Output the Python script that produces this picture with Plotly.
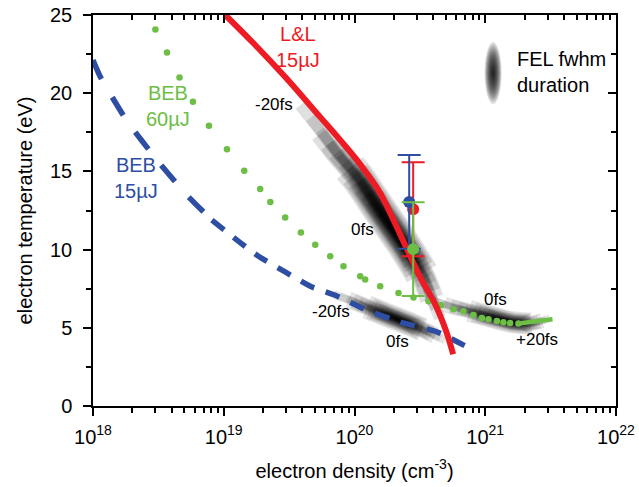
import plotly.graph_objects as go

FONT = "Liberation Sans, Arial, Helvetica, sans-serif"
RED = "rgb(237,28,36)"
BLUE = "rgb(45,78,163)"
GREEN = "rgb(108,190,69)"

# ---------------- data ----------------
# L&L 15uJ (solid red)
ll_density = [1.027e19, 1.681e19, 2.953e19, 5.47e19, 7.78e19, 1.106e20, 1.572e20,
              1.942e20, 2.44e20, 3.236e20, 4.068e20, 5.024e20, 5.68e20]
ll_temp = [25.0, 23.21, 21.03, 18.47, 17.00, 15.45, 13.61, 12.07, 10.28, 8.11, 6.64, 4.78, 3.31]

# BEB 15uJ (dashed blue) - upper and lower part
beb15_up_density = [1.0e18, 1.137e18, 1.80e18, 3.09e18, 5.08e18, 8.12e18]
beb15_up_temp = [22.12, 21.05, 18.28, 15.72, 13.59, 11.88]
beb15_lo_density = [8.12e18, 1.794e19, 2.95e19, 4.73e19, 7.12e19, 1.25e20, 2.235e20,
                    4.27e20, 8.12e20]
beb15_lo_temp = [11.88, 9.64, 8.57, 7.61, 7.08, 6.12, 5.37, 4.74, 3.56]

# BEB 60uJ (green dotted points + dense tail)
beb60_density = [3.0e18, 3.68e18, 4.59e18, 5.81e18, 7.71e18, 1.058e19, 1.435e19,
                 1.90e19, 2.27e19, 2.95e19, 3.89e19, 5.01e19, 6.52e19, 8.24e19,
                 1.106e20, 1.207e20, 1.572e20, 2.17e20, 2.825e20, 3.68e20, 4.59e20,
                 5.71e20, 6.81e20, 8.12e20, 9.42e20, 1.058e21, 1.227e21, 1.377e21,
                 1.55e21, 1.794e21]
beb60_temp = [24.08, 22.61, 21.01, 19.45, 17.92, 16.41, 15.04, 13.87, 13.05, 12.06,
              11.10, 10.31, 9.58, 8.94, 8.30, 8.09, 7.66, 7.23, 6.94, 6.70, 6.44,
              6.19, 6.06, 5.82, 5.63, 5.55, 5.44, 5.36, 5.31, 5.27]
beb60_tail_density = [1.794e21, 2.41e21, 3.27e21]
beb60_tail_temp = [5.27, 5.39, 5.55]

# measured points (red, blue, green) with error bars
meas_density = [2.81e20, 2.62e20, 2.81e20]
meas_temp = [12.58, 13.05, 10.03]
meas_err = [3.0, 3.0, 3.0]
meas_colors = [RED, BLUE, GREEN]

# FEL fwhm duration bands (centre lines)
band_ll_density = [3.85e19, 5.28e19, 7.38e19, 1.068e20, 1.60e20, 2.399e20, 3.41e20, 3.996e20, 4.52e20]
band_ll_temp = [19.24, 17.77, 16.17, 14.57, 12.39, 10.28, 8.17, 6.64, 5.61]
band_b15_density = [6.88e19, 9.27e19, 1.318e20, 1.875e20, 2.67e20, 3.66e20, 4.94e20]
band_b15_temp = [7.15, 6.76, 6.25, 5.74, 5.23, 4.72, 4.20]
band_b60_density = [3.47e20, 5.11e20, 7.66e20, 1.129e21, 1.606e21, 2.28e21, 3.13e21]
band_b60_temp = [6.96, 6.44, 6.06, 5.68, 5.36, 5.29, 5.61]

x_tick_vals = [1e18, 1e19, 1e20, 1e21, 1e22]
x_tick_text = ["10<sup>18</sup>", "10<sup>19</sup>", "10<sup>20</sup>", "10<sup>21</sup>", "10<sup>22</sup>"]
y_tick_vals = [0, 5, 10, 15, 20, 25]
x_minor_vals = [float(m) * 10.0 ** d for d in range(18, 22) for m in range(2, 10)]

fig = go.Figure()


def add_band(xs, ys, total_len, center, half_left, half_right, wmax, nlev=10, alpha=0.1):
    """Soft smudge along a centre line: nested, semi-transparent stroke pieces
    (each piece cut out of the full path by a dash pattern), lens shaped."""
    pieces = [(1.0, 0.35), (0.78, 0.7), (0.5, 1.0)]
    for k in range(nlev):
        f = 1 - k / nlev
        for lf, wf in pieces:
            a = max(0.0, center - half_left * f * lf)
            b = min(total_len, center + half_right * f * lf)
            w = wmax * f * wf
            dash = f"0px,{a:.0f}px,{max(b - a, 1):.0f}px,4000px"
            fig.add_trace(go.Scatter(
                x=xs, y=ys, mode="lines",
                line=dict(color=f"rgba(0,0,0,{alpha:.3f})", width=w, dash=dash,
                          shape="spline", smoothing=0.5),
                hoverinfo="skip", showlegend=False))


add_band(band_ll_density, band_ll_temp, 256, 160, 160, 96, 34, alpha=0.12)
add_band(band_b15_density, band_b15_temp, 121, 72, 72, 49, 24, alpha=0.1)
add_band(band_b60_density, band_b60_temp, 129, 92, 92, 37, 22, alpha=0.1)

fig.add_trace(go.Scatter(x=beb15_up_density, y=beb15_up_temp, mode="lines",
                         line=dict(color=BLUE, width=5.5, dash="21px,21px", shape="spline", smoothing=0.5),
                         showlegend=False))
fig.add_trace(go.Scatter(x=beb15_lo_density, y=beb15_lo_temp, mode="lines",
                         line=dict(color=BLUE, width=5.5, dash="15px,12px", shape="spline", smoothing=0.5),
                         showlegend=False))
fig.add_trace(go.Scatter(x=beb60_density, y=beb60_temp, mode="markers",
                         marker=dict(color=GREEN, size=6.5), showlegend=False))
fig.add_trace(go.Scatter(x=beb60_tail_density, y=beb60_tail_temp, mode="lines",
                         line=dict(color=GREEN, width=4.5), showlegend=False))
fig.add_trace(go.Scatter(x=ll_density, y=ll_temp, mode="lines",
                         line=dict(color=RED, width=6, shape="spline", smoothing=1.0),
                         showlegend=False))

for i in (0, 1, 2):
    fig.add_trace(go.Scatter(
        x=[meas_density[i]], y=[meas_temp[i]], mode="markers",
        marker=dict(color=meas_colors[i], size=12),
        error_y=dict(type="data", array=[meas_err[i]], visible=True,
                     color=meas_colors[i], thickness=2, width=11.5),
        showlegend=False))

# dummy trace for mirrored (inside-ticked) top/right axes
fig.add_trace(go.Scatter(x=[], y=[], xaxis="x2", yaxis="y2", showlegend=False))

# legend smudge (FEL fwhm duration)
NL = 14
a_leg = 1 - 0.15 ** (1.0 / NL)
for k in range(NL):
    s = 1 - k / NL
    fig.add_shape(type="circle", xref="paper", yref="paper",
                  xsizemode="pixel", ysizemode="pixel",
                  xanchor=0.765, yanchor=0.8516,
                  x0=-8.5 * s, x1=8.5 * s, y0=-31 * s, y1=31 * s,
                  line=dict(width=0), fillcolor=f"rgba(0,0,0,{a_leg:.3f})")

ann = [
    ("L&L<br>15µJ", 19.570, 22.96, RED, 20),
    ("BEB<br>60µJ", 18.576, 19.18, GREEN, 20),
    ("BEB<br>15µJ", 18.331, 14.57, BLUE, 20),
    ("-20fs", 19.386, 19.30, "black", 17),
    ("0fs", 20.059, 11.31, "black", 17),
    ("-20fs", 19.822, 6.06, "black", 17),
    ("0fs", 20.326, 4.14, "black", 17),
    ("0fs", 21.076, 6.83, "black", 17),
    ("+20fs", 21.397, 4.27, "black", 17),
]
for t, x, y, c, s in ann:
    fig.add_annotation(x=x, y=y, xref="x", yref="y", text=t, showarrow=False,
                       font=dict(family=FONT, size=s, color=c), align="center",
                       xanchor="center", yanchor="middle")
fig.add_annotation(x=21.229, y=21.35, xref="x", yref="y", text="FEL fwhm<br>duration",
                   showarrow=False, font=dict(family=FONT, size=20, color="black"),
                   align="left", xanchor="left", yanchor="middle")

axis_common = dict(showgrid=False, zeroline=False, linecolor="black", linewidth=1.5,
                   tickcolor="black", tickwidth=1.5, automargin=False)

fig.update_layout(
    width=639, height=487,
    margin=dict(l=93, r=23, t=15, b=81),
    plot_bgcolor="white", paper_bgcolor="white",
    showlegend=False,
    font=dict(family=FONT, size=20, color="black"),
    xaxis=dict(type="log", range=[18, 22], tickmode="array", tickvals=x_tick_vals,
               ticktext=x_tick_text, ticks="outside", ticklen=8, showline=True, mirror=True,
               ticklabelstandoff=4,
               minor=dict(tickmode="array", tickvals=x_minor_vals, ticks="outside",
                          ticklen=5, tickwidth=1.5, tickcolor="black", showgrid=False),
               title=dict(text="electron density (cm<sup>-3</sup>)", standoff=17,
                          font=dict(size=20)),
               **axis_common),
    yaxis=dict(range=[0, 25], tickmode="array", tickvals=y_tick_vals, ticks="outside",
               ticklen=8, showline=True, mirror=True, ticklabelstandoff=7,
               minor=dict(dtick=2.5, tick0=0, ticks="outside", ticklen=5, tickwidth=1.5,
                          tickcolor="black", showgrid=False),
               title=dict(text="electron temperature (eV)", standoff=12,
                          font=dict(size=20)),
               **axis_common),
    xaxis2=dict(type="log", range=[18, 22], overlaying="x", side="top", anchor="y2",
                tickmode="array", tickvals=x_tick_vals, ticks="inside", ticklen=8,
                showticklabels=False, showline=False,
                minor=dict(tickmode="array", tickvals=x_minor_vals, ticks="inside",
                           ticklen=5, tickwidth=1.5, tickcolor="black", showgrid=False),
                **axis_common),
    yaxis2=dict(range=[0, 25], overlaying="y", side="right", anchor="x2",
                tickmode="array", tickvals=y_tick_vals, ticks="inside", ticklen=8,
                showticklabels=False, showline=False,
                minor=dict(dtick=2.5, tick0=0, ticks="inside", ticklen=5, tickwidth=1.5,
                           tickcolor="black", showgrid=False),
                **axis_common),
)

fig.write_html("out.html", config={"displayModeBar": False},
               post_script="document.body.style.margin='0px';")
